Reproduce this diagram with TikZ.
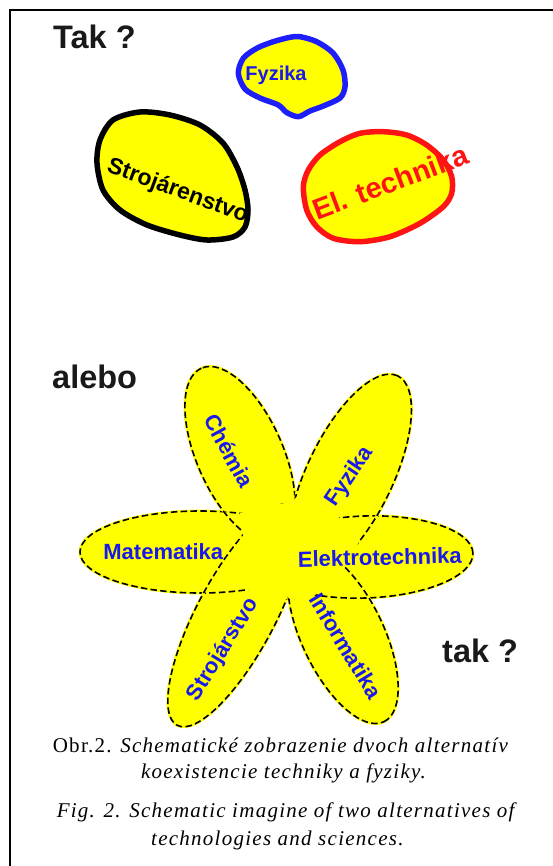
\documentclass[tikz,border=0pt]{standalone}
\usepackage{fontspec}
\setmainfont{Liberation Serif}
\newfontfamily\arialfont{Liberation Sans}
\definecolor{petalyellow}{RGB}{255,255,0}
\definecolor{fyzblue}{RGB}{30,30,250}
\definecolor{txtblue}{RGB}{25,25,235}
\definecolor{blobred}{RGB}{255,20,20}
\definecolor{inkgray}{RGB}{25,25,25}

\begin{document}
\begin{tikzpicture}[x=1pt, y=-1pt,
  blob/.style={fill=petalyellow, line width=5.5pt, line join=round},
  petal/.style={fill=petalyellow},
  petalrim/.style={draw=petalyellow, line width=2.8pt},
  petaledge/.style={draw=black, line width=1.6pt, dash pattern=on 6.5pt off 3.3pt},
  bigword/.style={font=\arialfont\bfseries\fontsize{32.5}{32.5}\selectfont, text=inkgray, inner sep=0pt, anchor=base west},
  pword/.style={font=\arialfont\bfseries\fontsize{22}{22}\selectfont, text=txtblue, inner sep=0pt},
  capline/.style={font=\fontsize{21}{26}\selectfont\addfontfeatures{LetterSpace=6}, inner sep=0pt, anchor=base}
 ]
  \useasboundingbox (0,0) rectangle (553,866);
  \draw[line width=2pt] (10,866) -- (10,10) -- (553,10);

  % first alternative
  \node (tak) [bigword] at (53,49) {Tak ?};
  \draw[blob, draw=fyzblue] plot[smooth cycle] coordinates {(300,36.7) (316.7,41.7) (333,53) (343,70) (345,86.7) (340,98) (323.3,106) (310,111) (298.3,116.7) (286.7,112.5) (278.3,105) (260,98) (245,89) (238.3,73.3) (243.3,58.3) (256.7,48.3) (273.3,41.7) (290,37.3)};
  \draw[blob, draw=black] plot[smooth cycle] coordinates {(113,120) (140,112) (170,115) (200,125) (223,143) (237,167) (245,190) (248,210) (245,227) (233,237) (207,240) (180,235) (147,225) (120,210) (103,190) (97,163) (100,140)};
  \draw[blob, draw=blobred] plot[smooth cycle] coordinates {(383.3,131.7) (406.7,135) (426.7,145) (443.3,160) (451.7,176.7) (451.7,193.3) (443.3,206.7) (420,223.3) (390,236.7) (360,241.7) (333.3,238.3) (316.7,226.7) (306.7,210) (303.3,186.7) (308.3,170) (320,155) (340,141.7) (360,133.3)};
  \node (fyzika) [font=\arialfont\bfseries\fontsize{20}{20}\selectfont, text=txtblue, inner sep=0pt, anchor=base] at (276,81) {Fyzika};
  \node (strojarenstvo) [font=\arialfont\bfseries\fontsize{23}{23}\selectfont, text=black, inner sep=0pt, anchor=base, rotate=-20.3] at (175.5,197) {Strojárenstvo};
  \node (eltechnika) [font=\arialfont\bfseries\fontsize{29}{29}\selectfont, text=blobred, inner sep=0pt, anchor=base, rotate=20.5] at (394,191.7) {El. technika};

  % second alternative: the flower
  \node (alebo) [bigword] at (52,388) {alebo};
  \def\petals{200/552/0/120/41, 365/557/2/108/41, 240/455/114/95/43, 350/475/64.3/110/43, 236/615/61.9/125/39, 343/636/-64.5/95/41}
  \foreach \cx/\cy/\ang/\ra/\rb in \petals
    \fill[petal] (\cx,\cy) ellipse [x radius=\ra pt, y radius=\rb pt, rotate=\ang];
  \foreach \cx/\cy/\ang/\ra/\rb in \petals {
    \draw[petalrim] (\cx,\cy) ellipse [x radius=\ra pt, y radius=\rb pt, rotate=\ang];
    \draw[petaledge] (\cx,\cy) ellipse [x radius=\ra pt, y radius=\rb pt, rotate=\ang];
  }
  \begin{scope}
    \clip foreach \cx/\cy/\ang/\ra/\rb in \petals {(\cx,\cy) ellipse [x radius=\ra pt, y radius=\rb pt, rotate=\ang]};
    \fill[petal] (221.7,566.7) -- (243.3,535) -- (240,513.3) -- (290,501.7) -- (305,491.7) -- (340,518.3) -- (361.7,535) -- (350,561.7) -- (313.3,596.7) -- (291.7,598.3) -- (281.7,600) -- (246.7,590) -- cycle;
  \end{scope}
  \node (matematika) [pword, anchor=base] at (163.3,559) {Matematika};
  \node (elektro) [pword, anchor=base, rotate=1.5] at (380,565) {Elektrotechnika};
  \node (chemia) [pword, rotate=-61.5] at (229,451) {Chémia};
  \node (fyzikap) [pword, rotate=56] at (350,476.7) {Fyzika};
  \node (strojarstvo) [pword, rotate=58.6] at (223.3,649.7) {Strojárstvo};
  \node (informatika) [pword, rotate=-58.5] at (345.8,645.8) {Informatika};
  \node (tak2) [bigword] at (442,662) {tak ?};

  % caption
  \node (obr1) [capline] at (281,752) {Obr.2. \textit{Schematické zobrazenie dvoch alternatív}};
  \node (obr2) [capline] at (284,778) {\textit{koexistencie techniky a fyziky.}};
  \node (fig1) [capline] at (287.5,817) {\textit{Fig. 2. Schematic imagine of two alternatives of}};
  \node (fig2) [capline] at (278,845) {\textit{technologies and sciences.}};
\end{tikzpicture}
\end{document}
